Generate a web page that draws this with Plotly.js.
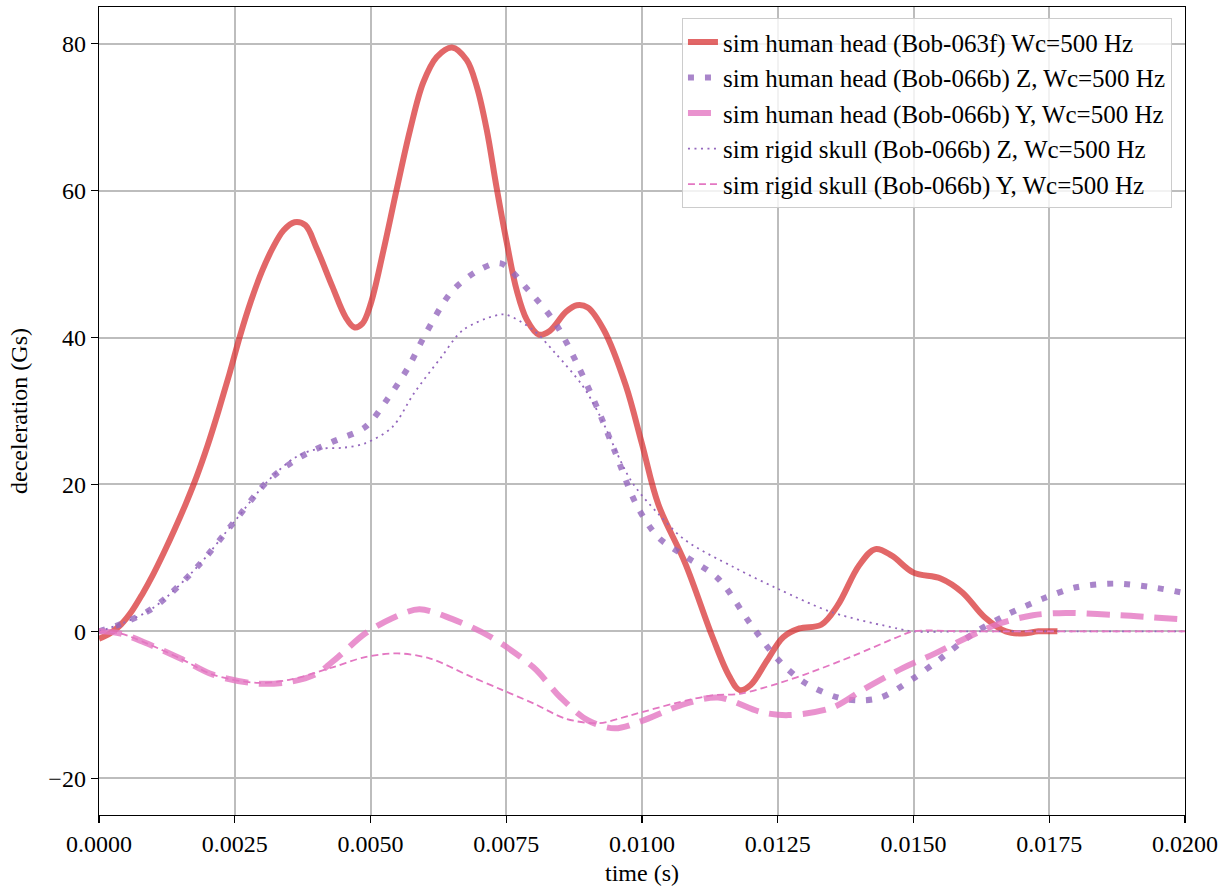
<!DOCTYPE html>
<html>
<head>
<meta charset="utf-8">
<script src="https://cdn.plot.ly/plotly-3.0.1.min.js"></script>
<style>html,body{margin:0;padding:0;background:#fff;}#chart{width:1228px;height:888px;}</style>
</head>
<body>
<div id="chart"></div>
<script>
// sim human head (Bob-063f)
const tHeadF = [0,0.0002,0.0004,0.0006,0.0008,0.001,0.0012,0.0014,0.0016,0.0018,0.002,0.0022,0.0024,0.0026,0.0028,0.003,0.0032,0.0034,0.0036,0.0038,0.004,0.0043,0.00454,0.0047,0.00485,0.005,0.00524,0.00548,0.00573,0.00597,0.00622,0.0065,0.00677,0.00696,0.00714,0.00732,0.00751,0.00769,0.00788,0.0081,0.0083,0.0086,0.0088,0.009,0.0093,0.0097,0.01,0.0103,0.0108,0.0113,0.0116,0.0118,0.012,0.0123,0.0126,0.0129,0.0133,0.0136,0.014,0.0143,0.0146,0.015,0.0155,0.0159,0.0163,0.0167,0.017,0.0173,0.01765];
const gHeadF = [-1.0,-0.3,0.9,2.7,5.1,7.8,10.8,14.0,17.4,21.1,25.3,30.0,35.0,40.3,45.0,49.0,52.2,54.6,55.7,55.3,52.3,46.9,42.8,41.4,41.9,44.5,51.9,60.1,68.3,74.7,78.2,79.5,77.8,74.1,68.3,60.5,52.9,46.5,42.4,40.4,40.9,43.5,44.4,44.1,41,33.5,25.5,17.3,9.2,-0.8,-6,-8,-7.3,-4,-0.8,0.4,0.9,3.5,9,11.2,10.3,8,7.2,5.3,2,0,-0.3,0,0];

// sim human head (Bob-066b) Z
const tHeadZ = [0,0.0004,0.001,0.0018,0.0025,0.0031,0.0037,0.0043,0.0049,0.0053,0.0057,0.006,0.0065,0.007,0.0074,0.0079,0.0084,0.0088,0.0092,0.0095,0.0099,0.0103,0.0108,0.0114,0.012,0.0125,0.013,0.0136,0.014,0.0144,0.015,0.0155,0.0161,0.0167,0.0174,0.018,0.0187,0.0194,0.02];
const gHeadZ = [0,1,3.2,8.7,15,20.4,23.7,25.8,27.8,31.5,36,40.3,46.3,49.2,50.1,46.5,42,36.5,30,24.5,17.2,12.8,10.2,7.2,1,-3.8,-7,-9,-9.4,-9,-6.4,-3.7,-0.3,2.2,4.5,6,6.5,6,5.2];

// sim human head (Bob-066b) Y
const tHeadY = [0,0.0004,0.0009,0.0015,0.0021,0.0029,0.0035,0.004,0.0044,0.0049,0.0054,0.0059,0.0065,0.0072,0.008,0.0085,0.009,0.0095,0.01,0.0107,0.0114,0.0122,0.0127,0.0135,0.0141,0.0148,0.0154,0.016,0.0166,0.0172,0.0178,0.0188,0.02];
const gHeadY = [0,-0.3,-1.7,-3.7,-5.9,-7.1,-6.9,-5.8,-3.5,-0.3,1.8,3.0,1.7,-0.7,-4.9,-9,-12.1,-13.2,-12.2,-10.1,-9,-11,-11.4,-10.4,-7.8,-5,-3,-0.8,1.1,2.2,2.5,2.2,1.6];

// sim rigid skull (Bob-066b) Z
const tSkullZ = [0,0.0004,0.001,0.0018,0.0025,0.0031,0.0036,0.004,0.0045,0.0049,0.0054,0.0058,0.0063,0.0067,0.0073,0.0075,0.008,0.0084,0.0089,0.0092,0.0098,0.0103,0.0108,0.0117,0.0125,0.0135,0.0147,0.015,0.016,0.018,0.02];
const gSkullZ = [0,1,3.2,8.7,15,20.4,23.6,24.8,25,25.6,27.8,32.4,37.3,41,43,43.1,41,37.9,33.5,29.7,20.5,16,12.4,8.7,5.8,2.6,0.4,0,0,0,0];

// sim rigid skull (Bob-066b) Y
const tSkullY = [0,0.0004,0.0009,0.0015,0.0021,0.0029,0.0035,0.0043,0.0049,0.0055,0.0061,0.0068,0.0074,0.008,0.0086,0.0092,0.0098,0.0106,0.0113,0.0118,0.0125,0.0131,0.0139,0.0147,0.015,0.016,0.018,0.02];
const gSkullY = [0,-0.3,-1.7,-3.7,-5.9,-7.0,-6.6,-4.9,-3.5,-3.0,-3.7,-6,-7.9,-9.8,-11.9,-12.5,-11.4,-9.8,-8.7,-8.5,-7.1,-5.6,-3.3,-0.8,0,0,0,0];

const seriesNames = [
  'sim human head (Bob-063f) Wc=500 Hz',
  'sim human head (Bob-066b) Z, Wc=500 Hz',
  'sim human head (Bob-066b) Y, Wc=500 Hz',
  'sim rigid skull (Bob-066b) Z, Wc=500 Hz',
  'sim rigid skull (Bob-066b) Y, Wc=500 Hz'
];

const FONT = 'Liberation Serif, Times New Roman, serif';

const traces = [
  {x: tHeadF, y: gHeadF, name: seriesNames[0], mode: 'lines',
   line: {color: 'rgba(214,39,40,0.7)', width: 6, shape: 'spline', smoothing: 1}},
  {x: tHeadZ, y: gHeadZ, name: seriesNames[1], mode: 'lines',
   line: {color: 'rgba(148,103,189,0.8)', width: 6, dash: '6px,11px', shape: 'spline', smoothing: 0.9}},
  {x: tHeadY, y: gHeadY, name: seriesNames[2], mode: 'lines',
   line: {color: 'rgba(227,119,194,0.8)', width: 6, dash: '23px,11px', shape: 'spline', smoothing: 0.9}},
  {x: tSkullZ, y: gSkullZ, name: seriesNames[3], mode: 'lines',
   line: {color: 'rgb(148,103,189)', width: 1.8, dash: '2px,4.5px', shape: 'spline', smoothing: 0.9}},
  {x: tSkullY, y: gSkullY, name: seriesNames[4], mode: 'lines',
   line: {color: 'rgb(227,119,194)', width: 1.8, dash: '7px,4px', shape: 'spline', smoothing: 0.9}}
];

const axisCommon = {
  showline: true, mirror: true, linecolor: '#000', linewidth: 1.3,
  ticks: 'outside', ticklen: 7, tickwidth: 1.3, tickcolor: '#000',
  showgrid: true, gridcolor: '#bdbdbd', gridwidth: 2, zeroline: false,
  tickfont: {family: FONT, size: 24, color: '#000'}
};

const layout = {
  width: 1228, height: 888,
  margin: {l: 99, r: 43, t: 7, b: 73},
  paper_bgcolor: '#fff', plot_bgcolor: '#fff',
  font: {family: FONT, size: 24, color: '#000'},
  showlegend: true,
  xaxis: Object.assign({}, axisCommon, {
    range: [0, 0.02], dtick: 0.0025, tick0: 0, tickformat: '.4f',
    title: {text: 'time (s)', font: {family: FONT, size: 24}, standoff: 8}
  }),
  yaxis: Object.assign({}, axisCommon, {
    range: [-25, 85], dtick: 20, tick0: 0,
    title: {text: 'deceleration (Gs)', font: {family: FONT, size: 24}, standoff: 14}
  }),
  legend: {
    x: 0.988, y: 0.986, xanchor: 'right', yanchor: 'top',
    bgcolor: 'rgba(255,255,255,0.8)', bordercolor: '#cccccc', borderwidth: 1,
    font: {family: FONT, size: 25, color: '#000'}
  }
};

Plotly.newPlot('chart', traces, layout, {displayModeBar: false, staticPlot: true});
</script>
</body>
</html>
